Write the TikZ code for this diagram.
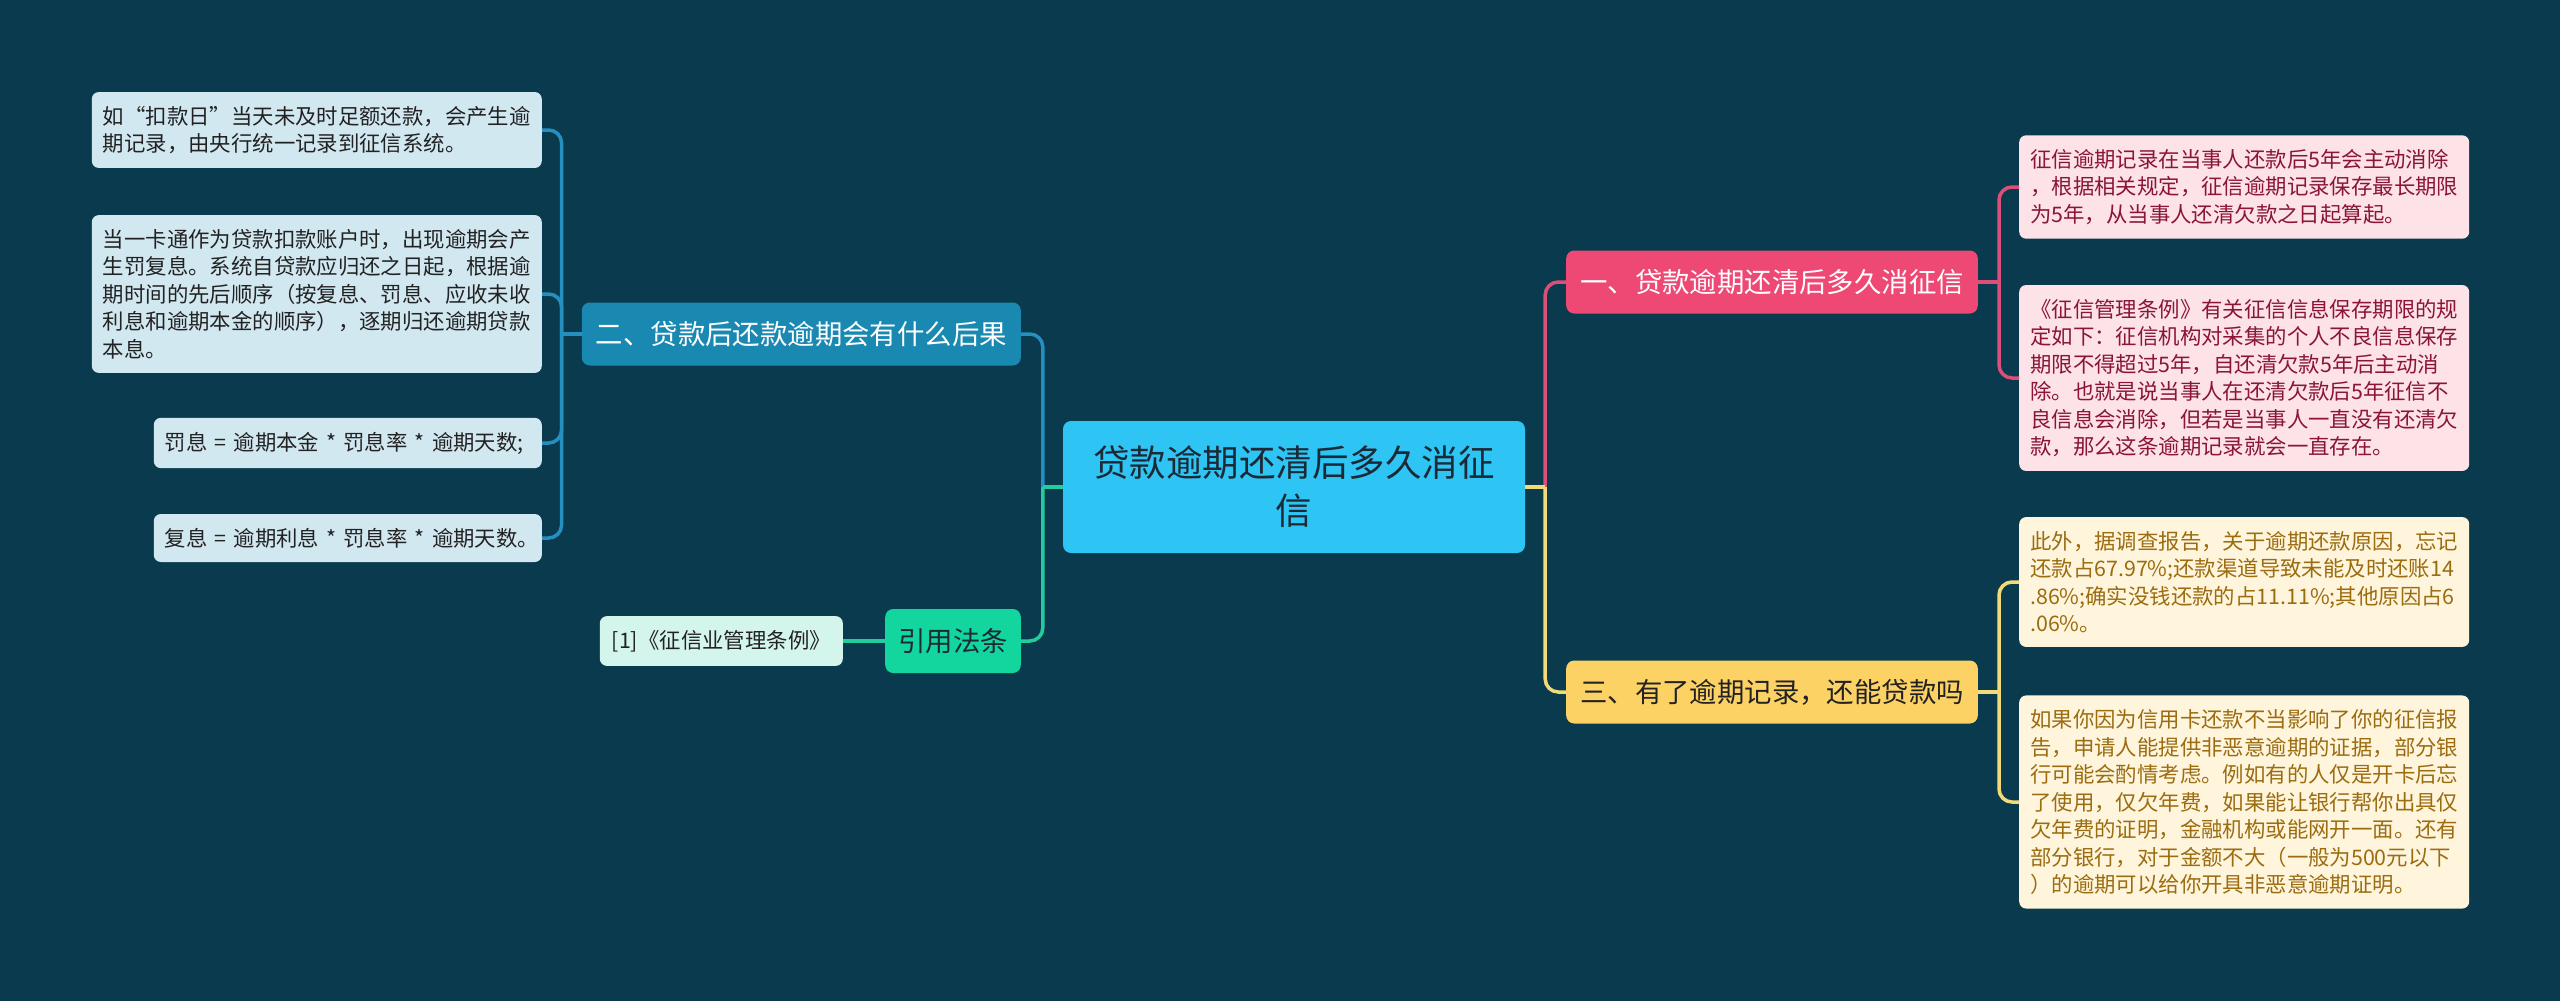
\documentclass[tikz,border=0pt]{standalone}
\usepackage{fontspec}
\setmainfont{Noto Sans CJK SC}
\usepackage{xcolor}
\usepackage{tikz}
\usetikzlibrary{positioning}
\definecolor{bgteal}{HTML}{093A4D}
\definecolor{rootsky}{HTML}{2EC4F3}
\definecolor{rootink}{HTML}{1B2A36}
\definecolor{bluefill}{HTML}{1A89B2}
\definecolor{blueline}{HTML}{2590BF}
\definecolor{blueleaf}{HTML}{D2E8F1}
\definecolor{greenfill}{HTML}{12D69E}
\definecolor{greenline}{HTML}{22CC9C}
\definecolor{mintleaf}{HTML}{D4F5EC}
\definecolor{pinkfill}{HTML}{EE4874}
\definecolor{pinkline}{HTML}{DC4F79}
\definecolor{pinkleaf}{HTML}{FDE2E8}
\definecolor{pinkink}{HTML}{8A1538}
\definecolor{yellowfill}{HTML}{FDD264}
\definecolor{yellowline}{HTML}{F3DA78}
\definecolor{yellowleaf}{HTML}{FFF5DC}
\definecolor{yellowink}{HTML}{9B6C10}
\definecolor{darkink}{HTML}{222222}

\begin{document}
\begin{tikzpicture}[x=1pt, y=-1pt,
    every node/.style={inner sep=0pt},
    rootbox/.style={rectangle, rounded corners=8pt, fill=rootsky, text=rootink,
                    minimum width=462pt, minimum height=132pt, align=center,
                    font=\fontsize{36.5}{48}\selectfont},
    branch/.style={rectangle, rounded corners=8pt, inner xsep=14pt,
                   minimum height=63pt, font=\fontsize{27.4}{32}\selectfont},
    leaf/.style={rectangle, rounded corners=7pt, inner xsep=11pt, inner ysep=14pt,
                 text width=428pt, align=left, text=darkink,
                 font=\fontsize{21.4}{27.5}\selectfont},
    link/.style={line width=3.5pt, rounded corners=13pt},
  ]
    \fill[bgteal] (0,0) rectangle (2560,1001);
    \useasboundingbox (0,0) rectangle (2560,1001);

    \node[rootbox] (root) at (1294,487) {贷款逾期还清后多久消征\\信};

    % left side
    \node[branch, fill=bluefill, text=white, anchor=east] (b2) at (1021,334)
      {二、贷款后还款逾期会有什么后果};
    \node[leaf, fill=blueleaf, anchor=east] (l1) at (542,130)
      {如“扣款日”当天未及时足额还款，会产生逾\\期记录，由央行统一记录到征信系统。};
    \node[leaf, fill=blueleaf, anchor=east] (l2) at (542,294)
      {当一卡通作为贷款扣款账户时，出现逾期会产\\生罚复息。系统自贷款应归还之日起，根据逾\\期时间的先后顺序（按复息、罚息、应收未收\\利息和逾期本金的顺序），逐期归还逾期贷款\\本息。};
    \node[leaf, fill=blueleaf, text width=366pt, anchor=east] (l3) at (542,443)
      {\mbox{罚息 = 逾期本金 * 罚息率 * 逾期天数;}};
    \node[leaf, fill=blueleaf, text width=366pt, anchor=east] (l4) at (542,538)
      {\mbox{复息 = 逾期利息 * 罚息率 * 逾期天数。}};

    \node[branch, fill=greenfill, text=rootink, inner xsep=13pt, minimum height=64pt,
          anchor=east] (cite) at (1021,641) {引用法条};
    \node[leaf, fill=mintleaf, text width={}, inner xsep=12pt, left=42pt of cite] (law)
      {[1]《征信业管理条例》};

    % right side
    \node[branch, fill=pinkfill, text=white, anchor=west] (b1) at (1566,282)
      {一、贷款逾期还清后多久消征信};
    \node[leaf, fill=pinkleaf, text=pinkink, anchor=west] (ra) at (2019,187)
      {征信逾期记录在当事人还款后5年会主动消除\\，根据相关规定，征信逾期记录保存最长期限\\为5年，从当事人还清欠款之日起算起。};
    \node[leaf, fill=pinkleaf, text=pinkink, anchor=west] (rb) at (2019,378)
      {《征信管理条例》有关征信信息保存期限的规\\定如下：征信机构对采集的个人不良信息保存\\期限不得超过5年，自还清欠款5年后主动消\\除。也就是说当事人在还清欠款后5年征信不\\良信息会消除，但若是当事人一直没有还清欠\\款，那么这条逾期记录就会一直存在。};

    \node[branch, fill=yellowfill, text=darkink, anchor=west] (b3) at (1566,692)
      {三、有了逾期记录，还能贷款吗};
    \node[leaf, fill=yellowleaf, text=yellowink, anchor=west] (rc) at (2019,582)
      {此外，据调查报告，关于逾期还款原因，忘记\\还款占67.97\%;还款渠道导致未能及时还账14\\.86\%;确实没钱还款的占11.11\%;其他原因占6\\.06\%。};
    \node[leaf, fill=yellowleaf, text=yellowink, anchor=west] (rd) at (2019,802)
      {如果你因为信用卡还款不当影响了你的征信报\\告，申请人能提供非恶意逾期的证据，部分银\\行可能会酌情考虑。例如有的人仅是开卡后忘\\了使用，仅欠年费，如果能让银行帮你出具仅\\欠年费的证明，金融机构或能网开一面。还有\\部分银行，对于金额不大（一般为500元以下\\）的逾期可以给你开具非恶意逾期证明。};

    % connectors
    \coordinate (jl) at ([xshift=-20pt]root.west);
    \coordinate (jr) at ([xshift=20pt]root.east);
    \coordinate (tl) at ([xshift=-20pt]b2.west);
    \coordinate (t1) at ([xshift=21pt]b1.east);
    \coordinate (t3) at ([xshift=21pt]b3.east);

    \draw[link, blueline] (jl) |- (b2.east);
    \draw[link, greenline] (jl) |- (cite.east);
    \draw[link, greenline] (root.west) -- (jl);
    \draw[link, pinkline] (jr) |- (b1.west);
    \draw[link, yellowline] (jr) |- (b3.west);
    \draw[link, yellowline] (root.east) -- (jr);

    \draw[link, blueline] (b2.west) -- (tl);
    \draw[link, blueline] (tl) |- (l1.east);
    \draw[link, blueline] (tl) |- (l2.east);
    \draw[link, blueline] (tl) |- (l3.east);
    \draw[link, blueline] (tl) |- (l4.east);
    \draw[link, greenline] (cite.west) -- (law.east);

    \draw[link, pinkline] (b1.east) -- (t1);
    \draw[link, pinkline] (t1) |- (ra.west);
    \draw[link, pinkline] (t1) |- (rb.west);
    \draw[link, yellowline] (b3.east) -- (t3);
    \draw[link, yellowline] (t3) |- (rc.west);
    \draw[link, yellowline] (t3) |- (rd.west);
  \end{tikzpicture}
\end{document}
